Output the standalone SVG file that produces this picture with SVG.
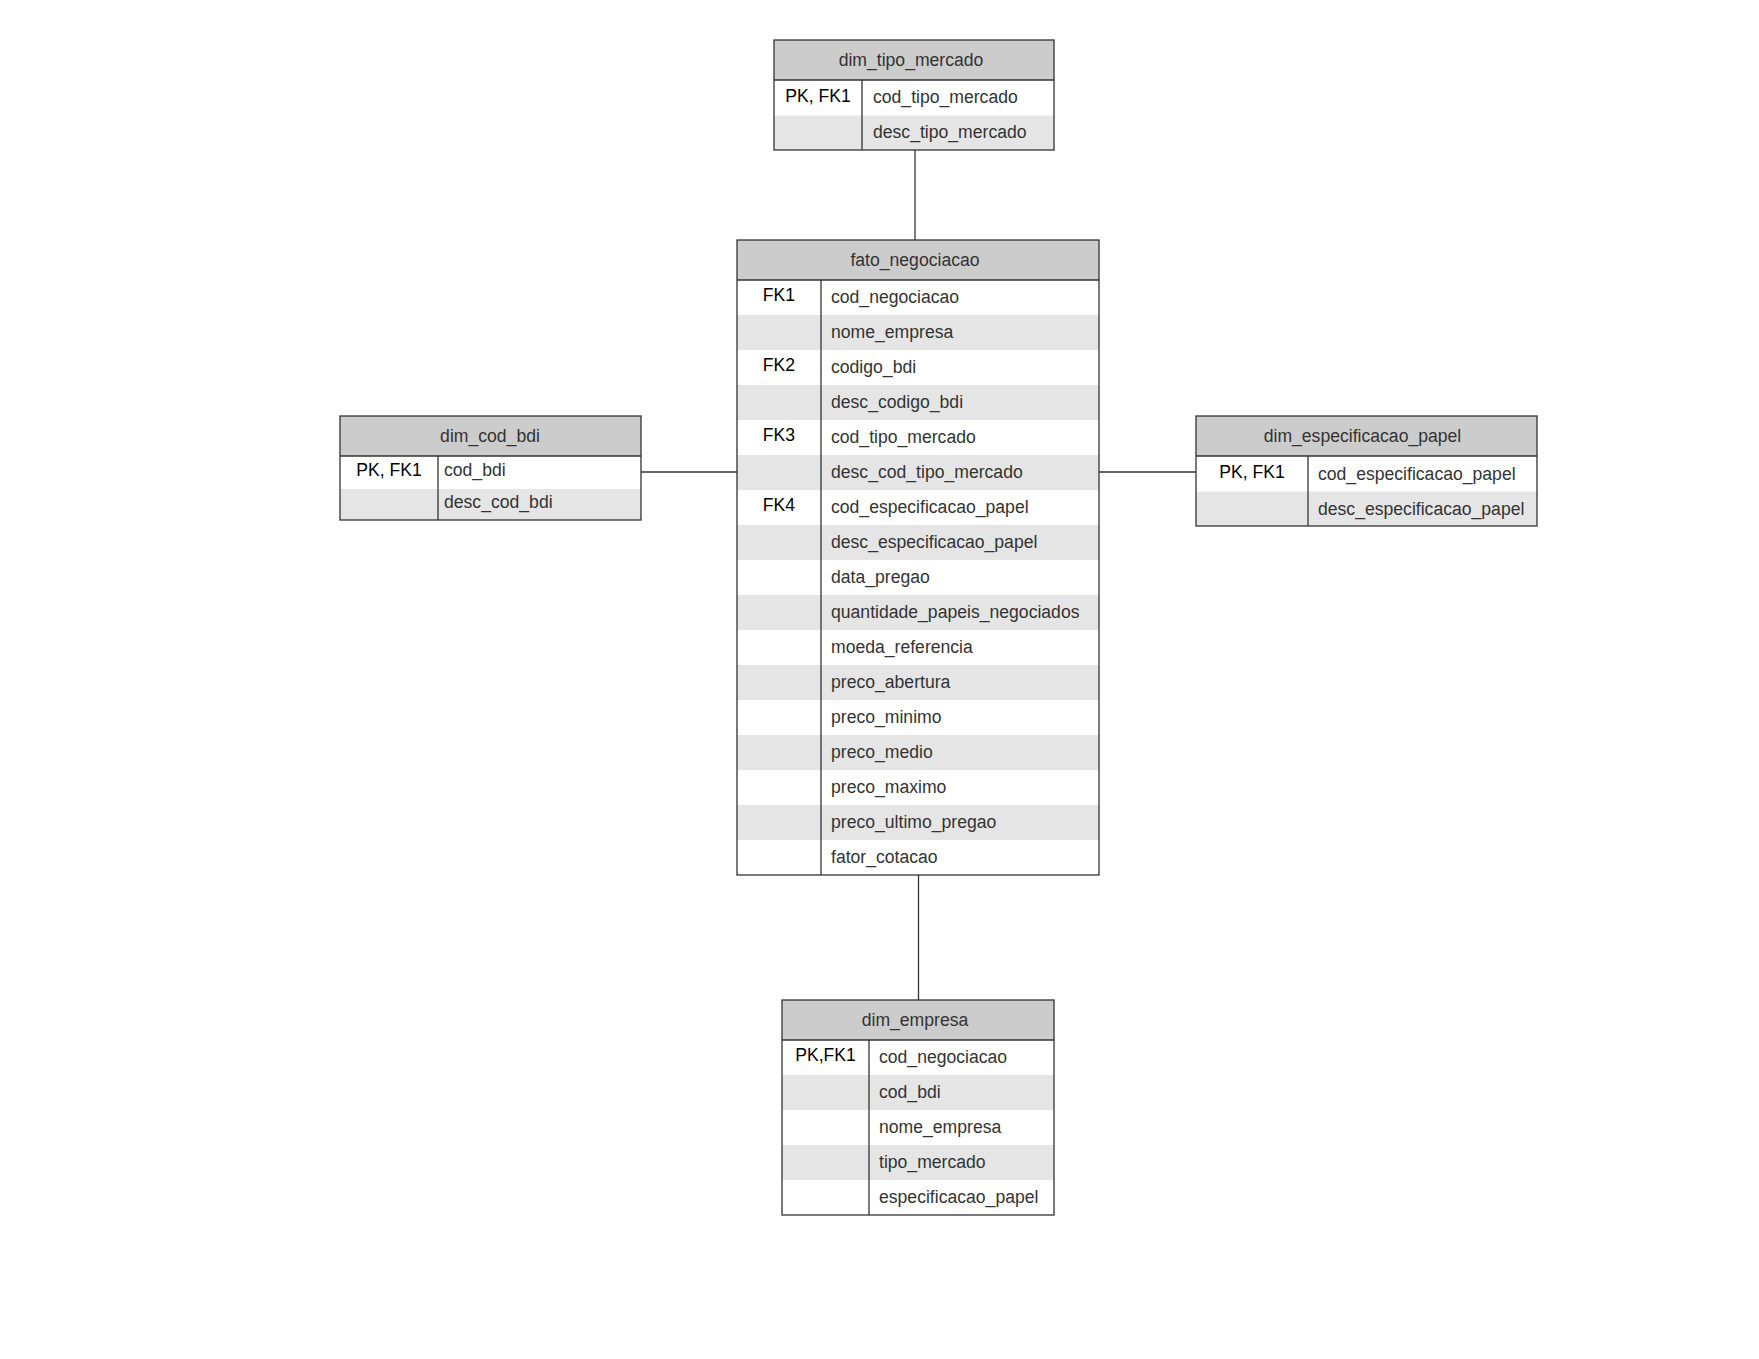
<svg xmlns="http://www.w3.org/2000/svg" width="1759" height="1359" viewBox="0 0 1759 1359">
<style>
.bg{fill:#ffffff}
.hdr{fill:#cccccc;stroke:none}
.alt{fill:#e5e5e5;stroke:none}
.frame{fill:none;stroke:#333333;stroke-width:1.3}
.ln{stroke:#333333;stroke-width:1.3;fill:none}
.ht{font-family:"Liberation Sans",Arial,sans-serif;font-size:17.6px;fill:#333333;text-anchor:middle}
.kt{font-family:"Liberation Sans",Arial,sans-serif;font-size:17.6px;fill:#000000;text-anchor:middle}
.ft{font-family:"Liberation Sans",Arial,sans-serif;font-size:17.6px;fill:#333333}
</style>
<rect class="bg" x="0" y="0" width="1759" height="1359"/>

<g id="connectors">
<line class="ln" x1="915" y1="150" x2="915" y2="240"/>
<line class="ln" x1="641" y1="472" x2="737" y2="472"/>
<line class="ln" x1="1099" y1="472" x2="1196" y2="472"/>
<line class="ln" x1="918.5" y1="875" x2="918.5" y2="1000"/>
</g>

<g id="dim_tipo_mercado">
<rect class="bg" x="774" y="40" width="280" height="110"/>
<rect class="hdr" x="774" y="40" width="280" height="40"/>
<rect class="alt" x="774" y="115.5" width="280" height="34.5"/>
<line class="ln" x1="774" y1="80" x2="1054" y2="80"/>
<line class="ln" x1="862" y1="80" x2="862" y2="150"/>
<rect class="frame" x="774" y="40" width="280" height="110"/>
<text class="ht" x="911" y="65.5">dim_tipo_mercado</text>
<text class="kt" x="818" y="101.5">PK, FK1</text>
<text class="ft" x="873" y="103">cod_tipo_mercado</text>
<text class="ft" x="873" y="138">desc_tipo_mercado</text>
</g>

<g id="fato_negociacao">
<rect class="bg" x="737" y="240" width="362" height="635"/>
<rect class="hdr" x="737" y="240" width="362" height="40"/>
<rect class="alt" x="737" y="315" width="362" height="35"/>
<rect class="alt" x="737" y="385" width="362" height="35"/>
<rect class="alt" x="737" y="455" width="362" height="35"/>
<rect class="alt" x="737" y="525" width="362" height="35"/>
<rect class="alt" x="737" y="595" width="362" height="35"/>
<rect class="alt" x="737" y="665" width="362" height="35"/>
<rect class="alt" x="737" y="735" width="362" height="35"/>
<rect class="alt" x="737" y="805" width="362" height="35"/>
<line class="ln" x1="737" y1="280" x2="1099" y2="280"/>
<line class="ln" x1="821" y1="280" x2="821" y2="875"/>
<rect class="frame" x="737" y="240" width="362" height="635"/>
<text class="ht" x="915" y="265.5">fato_negociacao</text>
<text class="kt" x="779" y="301">FK1</text>
<text class="kt" x="779" y="371">FK2</text>
<text class="kt" x="779" y="441">FK3</text>
<text class="kt" x="779" y="511">FK4</text>
<text class="ft" x="831" y="302.5">cod_negociacao</text>
<text class="ft" x="831" y="337.5">nome_empresa</text>
<text class="ft" x="831" y="372.5">codigo_bdi</text>
<text class="ft" x="831" y="407.5">desc_codigo_bdi</text>
<text class="ft" x="831" y="442.5">cod_tipo_mercado</text>
<text class="ft" x="831" y="477.5">desc_cod_tipo_mercado</text>
<text class="ft" x="831" y="512.5">cod_especificacao_papel</text>
<text class="ft" x="831" y="547.5">desc_especificacao_papel</text>
<text class="ft" x="831" y="582.5">data_pregao</text>
<text class="ft" x="831" y="617.5">quantidade_papeis_negociados</text>
<text class="ft" x="831" y="652.5">moeda_referencia</text>
<text class="ft" x="831" y="687.5">preco_abertura</text>
<text class="ft" x="831" y="722.5">preco_minimo</text>
<text class="ft" x="831" y="757.5">preco_medio</text>
<text class="ft" x="831" y="792.5">preco_maximo</text>
<text class="ft" x="831" y="827.5">preco_ultimo_pregao</text>
<text class="ft" x="831" y="862.5">fator_cotacao</text>
</g>

<g id="dim_cod_bdi">
<rect class="bg" x="340" y="416" width="301" height="104"/>
<rect class="hdr" x="340" y="416" width="301" height="40"/>
<rect class="alt" x="340" y="489" width="301" height="31"/>
<line class="ln" x1="340" y1="456" x2="641" y2="456"/>
<line class="ln" x1="438" y1="456" x2="438" y2="520"/>
<rect class="frame" x="340" y="416" width="301" height="104"/>
<text class="ht" x="490" y="441.5">dim_cod_bdi</text>
<text class="kt" x="389" y="476">PK, FK1</text>
<text class="ft" x="444" y="476">cod_bdi</text>
<text class="ft" x="444" y="508">desc_cod_bdi</text>
</g>

<g id="dim_especificacao_papel">
<rect class="bg" x="1196" y="416" width="341" height="110"/>
<rect class="hdr" x="1196" y="416" width="341" height="40"/>
<rect class="alt" x="1196" y="491.5" width="341" height="34.5"/>
<line class="ln" x1="1196" y1="456" x2="1537" y2="456"/>
<line class="ln" x1="1308" y1="456" x2="1308" y2="526"/>
<rect class="frame" x="1196" y="416" width="341" height="110"/>
<text class="ht" x="1362.5" y="441.5">dim_especificacao_papel</text>
<text class="kt" x="1252" y="478">PK, FK1</text>
<text class="ft" x="1318" y="480">cod_especificacao_papel</text>
<text class="ft" x="1318" y="514.5">desc_especificacao_papel</text>
</g>

<g id="dim_empresa">
<rect class="bg" x="782" y="1000" width="272" height="215"/>
<rect class="hdr" x="782" y="1000" width="272" height="40"/>
<rect class="alt" x="782" y="1075" width="272" height="35"/>
<rect class="alt" x="782" y="1145" width="272" height="35"/>
<line class="ln" x1="782" y1="1040" x2="1054" y2="1040"/>
<line class="ln" x1="869" y1="1040" x2="869" y2="1215"/>
<rect class="frame" x="782" y="1000" width="272" height="215"/>
<text class="ht" x="915" y="1025.5">dim_empresa</text>
<text class="kt" x="825.5" y="1061">PK,FK1</text>
<text class="ft" x="879" y="1062.5">cod_negociacao</text>
<text class="ft" x="879" y="1097.5">cod_bdi</text>
<text class="ft" x="879" y="1132.5">nome_empresa</text>
<text class="ft" x="879" y="1167.5">tipo_mercado</text>
<text class="ft" x="879" y="1202.5">especificacao_papel</text>
</g>
</svg>
